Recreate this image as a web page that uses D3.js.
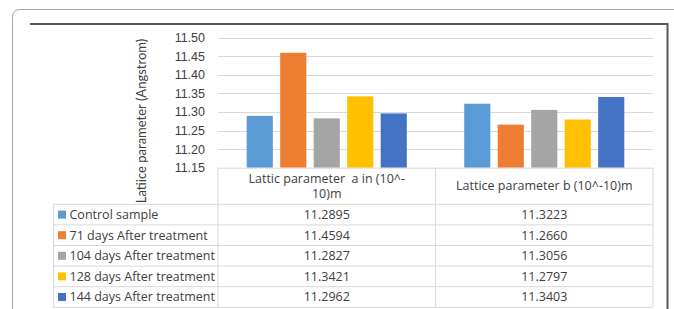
<!DOCTYPE html>
<html>
<head>
<meta charset="utf-8">
<script src="https://cdn.jsdelivr.net/npm/d3@7"></script>
<style>
	body { margin: 0; background: #fff; }
	svg { display: block; font-family: "Open Sans", "Noto Sans", sans-serif; }
	text { white-space: pre; }
	.tick-label { font-size: 12.5px; fill: #404040; }
	.axis-title { font-family: Lato, "Open Sans", sans-serif; font-size: 13px; fill: #404040; }
	.cell-text { font-size: 12.5px; fill: #404040; }
</style>
</head>
<body>
<svg id="chart" width="674" height="309"></svg>
<script>
	//DATA
	var categories = ["Lattic parameter  a in (10^-10)m", "Lattice parameter b (10^-10)m"];
	var headerLines = [["Lattic parameter  a in (10^-", "10)m"], ["Lattice parameter b (10^-10)m"]];
	var seriesNames = ["Control sample", "71 days After treatment", "104 days After treatment", "128 days After treatment", "144 days After treatment"];
	var seriesA = [11.2895, 11.4594, 11.2827, 11.3421, 11.2962];
	var seriesB = [11.3223, 11.2660, 11.3056, 11.2797, 11.3403];
	var yTicks = [11.15, 11.20, 11.25, 11.30, 11.35, 11.40, 11.45, 11.50];
	var colors = ["#5b9bd5", "#ed7d31", "#a5a5a5", "#ffc000", "#4472c4"];
	var yTitle = "Latiice parameter (Angstrom)";

	var svg = d3.select("#chart");

	//FRAME
	svg.append("path")
		.attr("d", "M12.5,309 L12.5,17 Q12.5,9.5 20,9.5 L674,9.5")
		.attr("fill", "none").attr("stroke", "#a6a6a6").attr("stroke-width", 1);
	svg.append("path")
		.attr("d", "M30,24 L667.5,24 L667.5,309")
		.attr("fill", "none").attr("stroke", "#595959").attr("stroke-width", 2);

	//SCALES
	var plotLeft = 218, plotRight = 653, plotTop = 37.7, plotBottom = 167.7;
	var x0 = d3.scaleBand().domain(categories).range([plotLeft, plotRight]).paddingInner(0.264).paddingOuter(0.132);
	var x1 = d3.scaleBand().domain(seriesNames).range([0, x0.bandwidth()]).paddingInner(0.22).paddingOuter(0);
	var y = d3.scaleLinear().domain([11.15, 11.50]).range([plotBottom, plotTop]);

	//GRID
	svg.append("g").selectAll("line")
		.data(yTicks.slice(1)).enter().append("line")
		.attr("x1", plotLeft).attr("x2", plotRight)
		.attr("y1", function (d) { return Math.round(y(d)) + 0.5; })
		.attr("y2", function (d) { return Math.round(y(d)) + 0.5; })
		.attr("stroke", "#d9d9d9").attr("stroke-width", 1);

	//Y AXIS
	var yAxis = d3.axisLeft(y).tickValues(yTicks).tickFormat(d3.format(".2f")).tickSize(0).tickPadding(0);
	var yAxisG = svg.append("g").attr("transform", "translate(205,0)").call(yAxis);
	yAxisG.select(".domain").remove();
	yAxisG.selectAll("text").attr("class", "tick-label").attr("font-family", null).attr("font-size", null).attr("fill", null);

	svg.append("text")
		.attr("class", "axis-title")
		.attr("transform", "translate(145.5,121) rotate(-90)")
		.attr("text-anchor", "middle")
		.text(yTitle);

	//BARS
	var groups = svg.append("g").selectAll("g")
		.data(categories).enter().append("g")
		.attr("transform", function (d) { return "translate(" + x0(d) + ",0)"; });

	groups.selectAll("rect")
		.data(function (d, i) {
			var vals = i === 0 ? seriesA : seriesB;
			return seriesNames.map(function (s, j) { return { name: s, value: vals[j], color: colors[j] }; });
		}).enter().append("rect")
		.attr("x", function (d) { return x1(d.name); })
		.attr("y", function (d) { return y(d.value); })
		.attr("width", x1.bandwidth())
		.attr("height", function (d) { return y(11.15) - y(d.value); })
		.attr("fill", function (d) { return d.color; });

	//TABLE
	var legendLeft = 53.5, headerTop = plotBottom, rowTop = 204.3, rowH = 20.6;
	var colEdges = [plotLeft, x0(categories[1]) - x0.step() * x0.paddingInner() / 2, plotRight];
	var tableBottom = rowTop + rowH * seriesNames.length;
	var grid = "#d9d9d9";
	var tbl = svg.append("g").attr("stroke", grid).attr("stroke-width", 1).attr("fill", "none");

	// header box
	tbl.append("line").attr("x1", plotLeft).attr("x2", plotRight).attr("y1", headerTop + 0.5).attr("y2", headerTop + 0.5);
	colEdges.forEach(function (cx) {
		tbl.append("line").attr("x1", cx).attr("x2", cx).attr("y1", headerTop).attr("y2", tableBottom);
	});
	tbl.append("line").attr("x1", legendLeft).attr("x2", legendLeft).attr("y1", rowTop).attr("y2", tableBottom);
	d3.range(seriesNames.length + 1).forEach(function (i) {
		var ry = rowTop + rowH * i;
		tbl.append("line").attr("x1", legendLeft).attr("x2", plotRight).attr("y1", ry).attr("y2", ry);
	});

	// header text
	headerLines.forEach(function (lines, i) {
		var cx = (colEdges[i] + colEdges[i + 1]) / 2;
		var mid = (headerTop + rowTop) / 2;
		lines.forEach(function (ln, k) {
			svg.append("text")
				.attr("class", "cell-text")
				.attr("x", cx)
				.attr("y", mid + (k - (lines.length - 1) / 2) * 15.5)
				.attr("dy", "0.35em")
				.attr("text-anchor", "middle")
				.text(ln);
		});
	});

	// rows
	var rows = svg.append("g").selectAll("g")
		.data(seriesNames).enter().append("g")
		.attr("transform", function (d, i) { return "translate(0," + (rowTop + rowH * i + rowH / 2) + ")"; });

	rows.append("rect")
		.attr("x", 58).attr("y", -4).attr("width", 8).attr("height", 8)
		.attr("fill", function (d, i) { return colors[i]; });
	rows.append("text")
		.attr("class", "cell-text")
		.attr("x", 69.5).attr("dy", "0.35em")
		.text(function (d) { return d; });
	rows.append("text")
		.attr("class", "cell-text")
		.attr("x", (colEdges[0] + colEdges[1]) / 2).attr("dy", "0.35em").attr("text-anchor", "middle")
		.text(function (d, i) { return seriesA[i].toFixed(4); });
	rows.append("text")
		.attr("class", "cell-text")
		.attr("x", (colEdges[1] + colEdges[2]) / 2).attr("dy", "0.35em").attr("text-anchor", "middle")
		.text(function (d, i) { return seriesB[i].toFixed(4); });
</script>
</body>
</html>
